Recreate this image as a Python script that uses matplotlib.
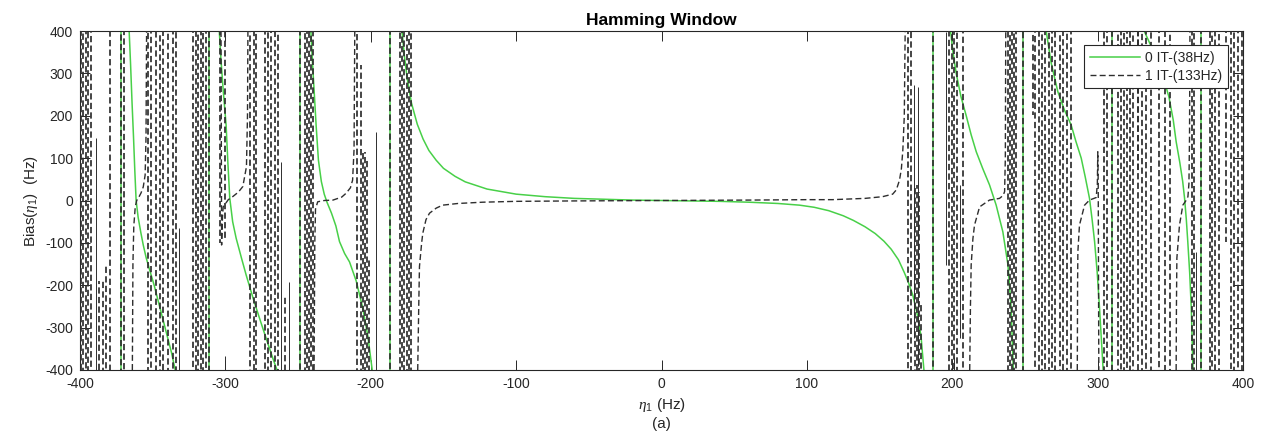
import numpy as np
import matplotlib
matplotlib.use("Agg")
import matplotlib.pyplot as plt

plt.rcParams["font.family"] = ["Liberation Sans", "DejaVu Sans"]
plt.rcParams["mathtext.fontset"] = "custom"
plt.rcParams["mathtext.it"] = "Liberation Serif:italic"
plt.rcParams["mathtext.rm"] = "Liberation Sans"
plt.rcParams["axes.unicode_minus"] = False

YLIM = (-400, 400)
XLIM = (-400, 400)

# ---- 0 IT (38 Hz): smooth branches between the poles ----
g_central_eta = [-178.5, -177, -175, -172, -168, -164, -160, -155, -150, -142, -135,
                 -120, -100, -80, -60, -40, -20, 0, 20, 40, 60, 80, 95, 105, 115,
                 125, 132, 140, 147, 153, 158, 163, 167, 170, 173, 176, 178.5, 180.5]
g_central_bias = [400, 345, 290, 230, 180, 145, 118, 95, 76, 57, 44,
                  27, 15, 9, 5, 3, 1, 0, -1, -2, -4, -7, -11, -16, -24,
                  -36, -47, -62, -78, -96, -115, -140, -170, -195, -225, -270, -320, -400]

g_l1_eta = [-366.2, -365.2, -364.2, -363.2, -362.3, -361.4, -360, -358.2, -356.5,
            -354.5, -352, -349, -346, -343, -340, -337, -334.5]
g_l1_bias = [400, 320, 230, 150, 70, 0, -40, -75, -105,
             -135, -165, -200, -240, -280, -320, -360, -400]

g_l2_eta = [-304.2, -303, -301.5, -299.5, -298.3, -297, -295, -292.6, -289, -285.7,
            -281, -276.6, -272, -267.4, -264.5]
g_l2_bias = [400, 330, 260, 178, 90, 6, -50, -89, -135, -176,
             -230, -277, -325, -372, -400]

g_l3_eta = [-241.2, -240, -238.8, -237.6, -236, -234, -232, -230, -227, -224, -221.5,
            -218, -214.6, -210, -205.5, -202, -199]
g_l3_bias = [400, 320, 250, 178, 95, 45, 15, -5, -30, -60, -97,
             -125, -145, -190, -254, -320, -400]

g_r1_eta = [198.8, 200.5, 202.7, 206, 209.6, 213, 216.5, 221, 225.6, 230.2, 234.8,
            238.3, 240.5, 242.0]
g_r1_bias = [400, 350, 300, 245, 200, 155, 115, 75, 37, -11, -74,
             -152, -254, -400]

g_r2_eta = [264.6, 268, 272.6, 277, 281.8, 285, 288.7, 291.5, 294.4, 296.2, 297.9,
            299.7, 301.3, 302.6, 303.8]
g_r2_bias = [400, 325, 257, 215, 178, 140, 100, 55, 5, -45, -97,
             -170, -254, -330, -400]

g_r3_eta = [332, 336, 340, 343, 346, 349, 352, 354, 356.5, 358.5, 359.8, 361, 362,
            363.3, 364.4, 365.6]
g_r3_bias = [400, 370, 340, 310, 280, 245, 190, 139, 90, 45, 5, -45, -97,
             -170, -254, -400]

# poles where the 0 IT curve jumps across the full range
g_jump_eta = [-371.7, -311.0, -249.0, -187.0, 186.7, 248.5, 309.8, 371.3]

# ---- 1 IT (133 Hz): smooth branches ----
k_central_eta = [-167.7, -167, -166.5, -165, -164.2, -162, -159.6, -155, -150.6, -140,
                 -123, -100, -60, 0, 60, 100, 117.7, 140, 152, 159, 161.5, 163.7,
                 165, 166, 167, 167.6]
k_central_bias = [-400, -250, -156, -100, -77, -45, -30, -18, -11, -7,
                  -4, -2, -1, 0, 1, 2, 2, 5, 9, 15, 25, 48,
                  75, 119, 200, 400]

k_l1_eta = [-364.0, -363.6, -363.0, -362.0, -361.0, -359.5, -358.0, -356.5, -355.2,
            -354.6, -354.2]
k_l1_bias = [-400, -150, -60, -15, 0, 8, 18, 32, 60, 150, 400]

k_l2_eta = [-303.0, -302.6, -302.0, -301.5, -298, -295, -291, -288, -285.5, -284.8,
            -284.5]
k_l2_bias = [400, -105, -40, -15, 2, 9, 20, 33, 80, 200, 400]

k_l3_eta = [-239.0, -238.5, -238.0, -236.5, -232, -226, -220, -217, -214, -212.5,
            -211.5, -211.0]
k_l3_bias = [-400, -100, -20, -3, 0, 1, 8, 17, 30, 48, 120, 400]

k_r1_eta = [212.0, 212.5, 213.0, 214.2, 215.3, 218.8, 225.6, 232.5, 235.0, 236.0,
            236.5, 236.8]
k_r1_bias = [-400, -250, -152, -90, -58, -15, 1, 5, 12, 21, 100, 400]

k_r2_eta = [286.0, 286.2, 286.4, 287.5, 291, 294.4, 299, 299.8, 300.1, 300.4, 300.8]
k_r2_bias = [-400, -200, -121, -58, -11, 1, 7, 40, 115, 40, -400]

k_r3_eta = [354.0, 354.2, 354.5, 356.3, 358.6, 361.0, 362.1, 362.8, 363.2, 363.5]
k_r3_bias = [-400, -250, -136, -58, -11, 1, 9, 40, 150, 400]

# 1 IT branches that sweep the whole range (poles close together)
k_sweep_eta = [-399.0, -397.6, -396.0, -394.2, -392.5, -379.7, -371.7, -369.4,
               -353.4, -351.0, -347.6, -345.3, -343.0, -339.6, -336.2, -333.9,
               -322.0, -320.4, -318.7, -317.0, -315.3, -313.6, -311.0,
               -283.4, -280.0, -278.8, -273.0, -270.8, -268.5, -266.2, -264.0,
               -249.0, -245.5, -244.0, -242.5, -241.0, -239.8, -209.8, -187.0,
               -179.6, -178.2, -176.8, -175.4, -174.0, -172.6,
               169.4, 171.8, 186.7, 197.5, 199.5, 201.5, 203.5, 207.5,
               238.0, 239.5, 241.0, 242.5, 244.0, 248.5,
               257.0, 260.0, 262.0, 264.0, 266.5, 268.5, 271.0, 274.0, 276.5, 279.0, 282.0,
               304.5, 306.5, 309.8, 314.0, 316.0, 318.0, 320.0, 322.0, 324.0,
               328.0, 330.5, 333.5, 337.0, 342.5, 346.0, 349.5,
               365.0, 366.5, 371.3, 377.0, 379.0, 381.0, 383.5,
               392.0, 394.0, 396.5, 399.0]

# 1 IT branches that only partly enter the range
k_part_eta = [-386.6, -384.3, -382.0, -303.4, -300.5, -259.3, -206.6, -205.3, -203.8,
              -202.4, -200.9, 174.5, 175.6, 176.8, 178.3, 255.4, 327.6, 388.5]
k_part_lo = [-400, -400, -400, -100, -95, -400, -400, -400, -400,
             -400, -400, -400, -400, -400, -400, 202, 65, -97]
k_part_hi = [-190, -190, -150, 400, 400, -223, 320, 115, 115,
             100, -136, 37, 37, 20, -240, 400, 400, 400]

# narrow spikes of the 1 IT curve (drawn as fine strokes)
k_spike_eta = [-389.0, -331.6, -300.0, -261.6, -256.4, -199.7, -196.3,
               174.0, 176.3, 195.8, 201.0, 205.0, 367.8]
k_spike_lo = [-400, -400, -400, -400, -400, 374, -400,
              -325, -390, -152, -400, -325, -400]
k_spike_hi = [147, -65, -368, 91, -193, 400, 162,
              272, 268, 398, -370, 37, -122]

GREEN = "#48d048"
DARK = "#2e2e2e"
TXT = "#262626"
DASH_ON, DASH_OFF = 3.6, 1.9
DASH = (0, (DASH_ON, DASH_OFF))


def dash_styles(n):
    # stagger the dash phase so neighbouring strokes don't line up
    period = DASH_ON + DASH_OFF
    return [((i * 2.3) % period, (DASH_ON, DASH_OFF)) for i in range(n)]


fig = plt.figure(figsize=(12.68, 4.43), dpi=100)
ax = fig.add_axes([0.0631, 0.1648, 0.9172, 0.7652])

green_branches = [(g_central_eta, g_central_bias), (g_l1_eta, g_l1_bias),
                  (g_l2_eta, g_l2_bias), (g_l3_eta, g_l3_bias),
                  (g_r1_eta, g_r1_bias), (g_r2_eta, g_r2_bias),
                  (g_r3_eta, g_r3_bias)]
black_branches = [(k_central_eta, k_central_bias), (k_l1_eta, k_l1_bias),
                  (k_l2_eta, k_l2_bias), (k_l3_eta, k_l3_bias),
                  (k_r1_eta, k_r1_bias), (k_r2_eta, k_r2_bias),
                  (k_r3_eta, k_r3_bias)]

h_green = None
for eta, bias in green_branches:
    ln, = ax.plot(eta, bias, color=GREEN, lw=1.1, zorder=2)
    h_green = h_green or ln
ax.vlines(g_jump_eta, YLIM[0], YLIM[1], colors=GREEN, lw=1.1, zorder=2)

ax.vlines(k_sweep_eta, YLIM[0], YLIM[1], colors=DARK, lw=1.25,
          linestyles=dash_styles(len(k_sweep_eta)), zorder=3)
ax.vlines(k_part_eta, k_part_lo, k_part_hi, colors=DARK, lw=1.25,
          linestyles=dash_styles(len(k_part_eta)), zorder=3)
ax.vlines(k_spike_eta, k_spike_lo, k_spike_hi, colors=DARK, lw=0.7, zorder=3)

h_black = None
for eta, bias in black_branches:
    ln, = ax.plot(eta, bias, color=DARK, lw=1.0, linestyle=(0, (4.3, 2.3)), zorder=3)
    h_black = h_black or ln

ax.set_xlim(*XLIM)
ax.set_ylim(*YLIM)
ax.set_xticks(np.arange(-400, 401, 100))
ax.set_yticks(np.arange(-400, 401, 100))
ax.tick_params(direction="in", top=True, right=True, length=7, width=0.7,
               labelsize=10, colors=TXT, pad=5)
for sp in ax.spines.values():
    sp.set_color(TXT)
    sp.set_linewidth(0.8)

ax.set_title("Hamming Window", fontsize=12.5, fontweight="bold", pad=4)
ax.set_xlabel(r"$\eta_1$ (Hz)" + "\n(a)", fontsize=11, color=TXT,
              linespacing=1.25, labelpad=4)
ax.set_ylabel(r"Bias($\eta_1$)  (Hz)", fontsize=11, color=TXT, labelpad=4)

leg = ax.legend([h_green, h_black], ["0 IT-(38Hz)", "1 IT-(133Hz)"],
                loc="upper right", bbox_to_anchor=(0.9871, 0.9587),
                borderaxespad=0, fontsize=10, fancybox=False, framealpha=1,
                edgecolor=TXT, handlelength=3.6, handletextpad=0.4,
                borderpad=0.4, labelspacing=0.3)
leg.get_frame().set_linewidth(0.8)
for t in leg.get_texts():
    t.set_color(TXT)

fig.savefig("out.png", dpi=100)
